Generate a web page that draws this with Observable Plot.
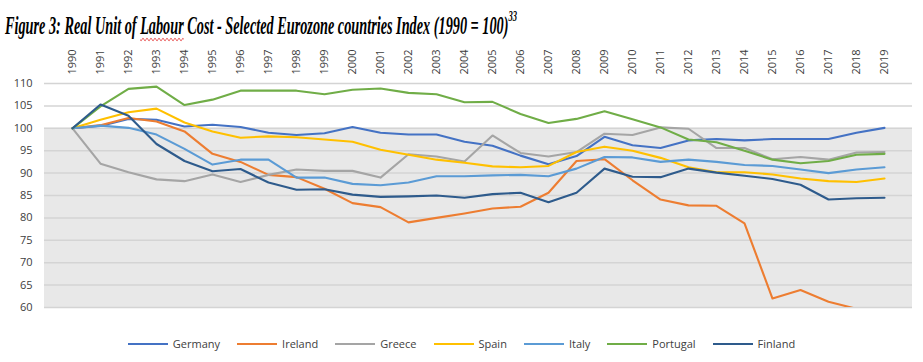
<!DOCTYPE html>
<html>
<head>
<meta charset="utf-8">
<script src="https://cdn.jsdelivr.net/npm/d3@7"></script>
<script src="https://cdn.jsdelivr.net/npm/@observablehq/plot@0.6"></script>
<style>
  html, body { margin: 0; padding: 0; background: #fff; width: 923px; height: 362px; overflow: hidden; position: relative; }
  #title { position: absolute; left: 5px; top: 5px; font-family: "Liberation Serif", serif; font-style: italic; font-weight: bold; font-size: 25px; line-height: 30px; color: #000; white-space: nowrap; transform-origin: 0 0; }
  #title sup { font-size: 15px; position: relative; top: -4px; }
  .spell { text-decoration: underline wavy #e02020; text-decoration-thickness: 1px; text-underline-offset: 3px; }
  #chart { position: absolute; left: 0; top: 38px; }
  #legend { position: absolute; left: 0; top: 336px; width: 923px; display: flex; justify-content: center; align-items: center; font-family: "Open Sans", sans-serif; font-size: 11px; color: #404040; }
  .item { display: flex; align-items: center; margin: 0 8.5px; }
  .item svg { margin-right: 5px; }
</style>
</head>
<body>
<div id="title">Figure 3: Real Unit of <span class="spell">Labour</span> Cost - Selected Eurozone countries Index (1990 = 100)<sup>33</sup></div>
<div id="chart"></div>
<div id="legend"></div>
<script>
const years = [1990,1991,1992,1993,1994,1995,1996,1997,1998,1999,2000,2001,2002,2003,2004,2005,2006,2007,2008,2009,2010,2011,2012,2013,2014,2015,2016,2017,2018,2019];
const countries = ["Germany","Ireland","Greece","Spain","Italy","Portugal","Finland"];
const colors = ["#4472C4","#ED7D31","#A5A5A5","#FFC000","#5B9BD5","#70AD47","#2E5B8C"];
const yTicks = [60,65,70,75,80,85,90,95,100,105,110];
const baseIndex = 100;

const germany  = [100,100.5,102.1,101.9,100.4,100.8,100.3,99.0,98.5,98.9,100.3,99.0,98.6,98.6,97.0,96.1,93.9,92.0,93.8,98.1,96.2,95.6,97.3,97.6,97.3,97.6,97.6,97.6,99.0,100.1];
const ireland  = [100,100.7,102.3,101.5,99.3,94.3,92.5,89.6,89.1,86.5,83.3,82.4,79.0,80.0,81.0,82.1,82.5,85.6,92.7,93.1,88.4,84.1,82.8,82.7,78.8,62.0,63.9,61.3,59.7,null];
const greece   = [100,92.1,90.2,88.6,88.2,89.7,88.0,89.6,90.8,90.5,90.5,89.0,94.2,93.7,92.6,98.4,94.5,93.7,94.7,98.8,98.5,100.2,99.9,95.6,95.6,93.1,93.6,93.0,94.6,94.7];
const spain    = [100,101.9,103.6,104.4,101.3,99.3,97.9,98.2,98.0,97.5,97.0,95.2,94.1,93.0,92.3,91.5,91.3,91.6,94.7,95.9,95.0,93.4,91.3,90.2,90.2,89.7,88.8,88.2,88.0,88.8];
const italy    = [100,100.6,100.1,98.6,95.4,91.9,93.0,93.0,89.0,89.0,87.6,87.3,87.9,89.3,89.3,89.5,89.6,89.3,91.0,93.6,93.5,92.5,93.0,92.5,91.8,91.6,90.8,90.0,90.8,91.3];
const portugal = [100,104.9,108.8,109.3,105.2,106.4,108.4,108.4,108.4,107.6,108.6,108.9,107.9,107.6,105.8,105.9,103.2,101.2,102.1,103.8,102.0,100.2,97.5,96.9,95.0,93.0,92.2,92.7,94.1,94.3];
const finland  = [100,105.3,102.8,96.5,92.7,90.4,90.9,87.9,86.3,86.4,85.2,84.7,84.8,85.0,84.5,85.3,85.6,83.5,85.6,91.0,89.2,89.1,91.0,90.1,89.4,88.7,87.4,84.1,84.4,84.5];

const seriesValues = [germany, ireland, greece, spain, italy, portugal, finland];
const rows = countries.flatMap((c, i) => years.map((yr, j) => ({year: yr, value: seriesValues[i][j], country: c})));

const chart = Plot.plot({
  width: 923,
  height: 280,
  marginTop: 45,
  marginBottom: 11,
  marginLeft: 44,
  marginRight: 11,
  style: {fontFamily: "Open Sans, sans-serif", fontSize: "11px", color: "#404040", background: "transparent"},
  x: {type: "point", domain: years, padding: 0.5, align: 0.5},
  y: {domain: [60, 110], nice: false},
  color: {domain: countries, range: colors},
  marks: [
    Plot.rect([{lo: yTicks[0], hi: baseIndex}], {y1: "lo", y2: "hi", fill: "#e8e8e8"}),
    Plot.gridY(yTicks, {stroke: "#d4d4d4", strokeOpacity: 1, strokeWidth: 1.5}),
    Plot.axisY({ticks: yTicks, tickSize: 0, tickPadding: 12, label: null}),
    Plot.axisX({anchor: "top", tickRotate: -90, tickSize: 0, tickPadding: 9, label: null, tickFormat: d => String(d)}),
    Plot.line(rows, {x: "year", y: "value", z: "country", stroke: "country", strokeWidth: 2.1, defined: d => d.value != null, clip: true, strokeLinejoin: "round"})
  ]
});
document.getElementById("chart").appendChild(chart);

const legend = document.getElementById("legend");
countries.forEach((c, i) => {
  const item = document.createElement("div");
  item.className = "item";
  item.innerHTML = `<svg width="40" height="6"><line x1="0" y1="3" x2="40" y2="3" stroke="${colors[i]}" stroke-width="2.2"/></svg><span>${c}</span>`;
  legend.appendChild(item);
});

const title = document.getElementById("title");
const w = title.getBoundingClientRect().width;
title.style.transform = `scaleX(${512 / w})`;
</script>
</body>
</html>
